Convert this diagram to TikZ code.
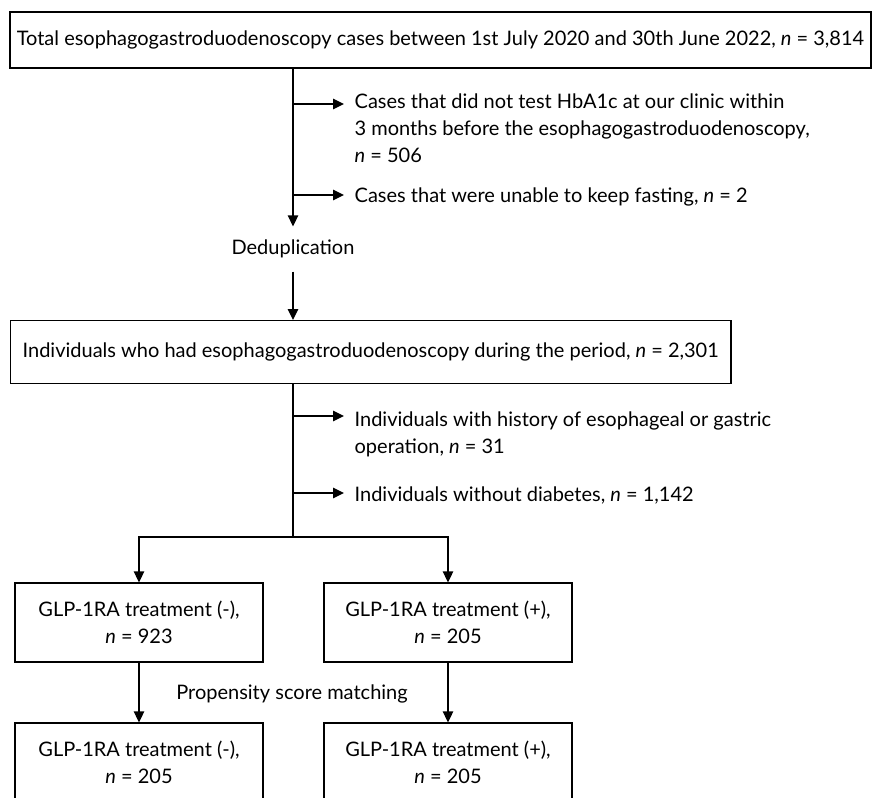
\documentclass[tikz,border=0pt]{standalone}
\usepackage{fontspec}
\setmainfont{Lato}
\usetikzlibrary{positioning,arrows.meta}
\tikzset{
  box/.style={draw, line width=1.3pt, inner sep=0pt, align=center},
  arr/.style={-{Triangle[length=11pt,width=10.5pt]}},
  side/.style={anchor=west, align=left, inner xsep=10pt, inner ysep=0pt},
}
\begin{document}
\begin{tikzpicture}[x=1pt, y=-1pt, line width=1.3pt, font=\fontsize{20}{27}\selectfont]
\useasboundingbox (0,0) rectangle (873,798);
\clip (0,0) rectangle (873,798);
% all cases and first exclusions
\node[box, minimum width=861pt, minimum height=56pt] (total) at (440.5,40) {Total esophagogastroduodenoscopy cases between 1st July 2020 and 30th June 2022, \textit{n} = 3,814};
\node[minimum height=44pt, inner sep=0pt] (dedup) at (293,249) {Deduplication};
\draw[arr] (total.south -| dedup) -- (dedup.north);
\coordinate (b1) at (293,104);
\coordinate (b2) at (293,195);
\node[side] (excl1) at (344,128) {Cases that did not test HbA1c at our clinic within\\3 months before the esophagogastroduodenoscopy,\\\textit{n} = 506};
\node[side] (excl2) at (344,197) {Cases that were unable to keep fasting, \textit{n} = 2};
\draw[arr] (b1) -- (b1 -| excl1.west);
\draw[arr] (b2) -- (b2 -| excl2.west);
% individuals and second exclusions
\node[box, anchor=north west, minimum height=63pt, inner xsep=12pt] (indiv) at (10,320) {Individuals who had esophagogastroduodenoscopy during the period, \textit{n} = 2,301};
\draw[arr] (dedup.south) -- (indiv.north -| dedup);
\coordinate (b3) at (293,416);
\coordinate (b4) at (293,493);
\coordinate (split) at (293,537);
\node[side] (excl3) at (344,434) {Individuals with history of esophageal or gastric\\operation, \textit{n} = 31};
\node[side] (excl4) at (344,495) {Individuals without diabetes, \textit{n} = 1,142};
\draw (indiv.south -| split) -- (split);
\draw[arr] (b3) -- (b3 -| excl3.west);
\draw[arr] (b4) -- (b4 -| excl4.west);
% treatment groups before and after matching
\foreach \nm/\x/\sg/\na in {neg/139/-/923, pos/448/+/205}{
  \node[box, minimum width=248pt, minimum height=79pt] (g\nm) at (\x,622.5) {GLP-1RA treatment (\sg),\\\textit{n} = \na};
  \node[box, minimum width=248pt, minimum height=79pt] (m\nm) at (\x,762.5) {GLP-1RA treatment (\sg),\\\textit{n} = 205};
  \draw[arr] (split) -| (g\nm.north);
  \draw[arr] (g\nm.south) -- (m\nm.north);
}
\node (psm) at (292,694) {Propensity score matching};
\end{tikzpicture}
\end{document}
